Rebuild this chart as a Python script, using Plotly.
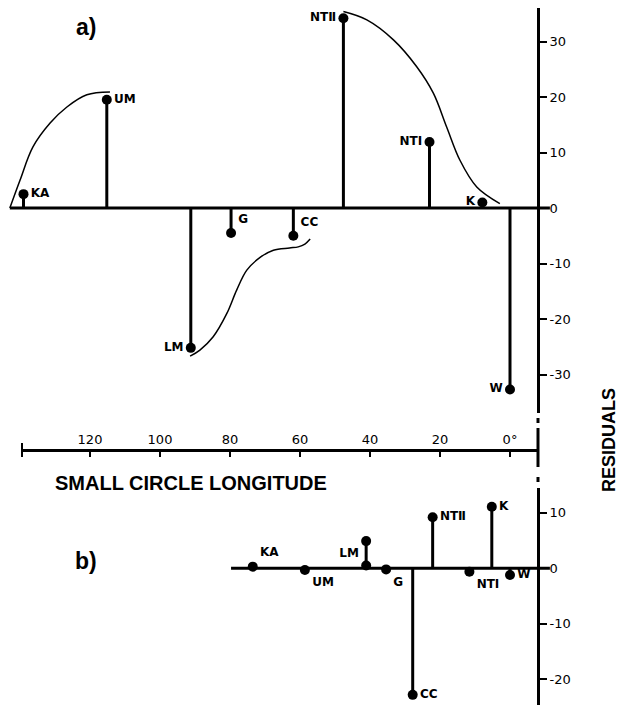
import plotly.graph_objects as go

# ---------------- data ----------------
names_a = ["KA", "UM", "LM", "G", "CC", "NTⅡ", "NTI", "K", "W"]
lon_a = [139.0, 115.2, 91.2, 79.7, 61.9, 47.6, 23.0, 7.9, 0.0]
res_a = [2.5, 19.5, -25.2, -4.5, -5.0, 34.2, 11.9, 1.0, -32.7]

names_b = ["KA", "UM", "LM", "G", "CC", "NTⅡ", "NTI", "K", "W"]
lon_b = [73.5, 58.6, 41.1, 35.4, 27.8, 22.1, 11.6, 5.2, 0.0]
res_b = [0.3, -0.3, 4.9, -0.2, -22.8, 9.2, -0.6, 11.1, -1.2]
extra_lon_b = [41.1]
extra_res_b = [0.5]

curve1_lon = [142.9, 140.0, 136.3, 131.4, 126.6, 120.9, 114.3]
curve1_res = [0.0, 5.0, 11.0, 15.3, 18.2, 20.4, 20.9]
curve2_lon = [91.4, 88.6, 84.8, 80.9, 78.1, 75.2, 71.4, 67.6, 63.0, 60.5, 58.6, 57.1]
curve2_res = [-26.7, -25.6, -23.2, -19.0, -14.8, -11.2, -8.9, -7.6, -7.2, -7.0, -6.5, -5.6]
curve3_lon = [47.6, 40.9, 33.3, 26.7, 21.9, 18.1, 14.3, 9.5, 2.9]
curve3_res = [35.4, 33.9, 30.3, 25.5, 20.7, 14.6, 8.6, 3.8, 0.8]

baseline_a_lon = [142.9, -11.4]
baseline_b_lon = [79.7, -11.4]

lon_tickvals = [120, 100, 80, 60, 40, 20, 0]
lon_ticktext = ["120", "100", "80", "60", "40", "20", "0°"]
res_tickvals_a = [30, 20, 10, 0, -10, -20, -30]
res_ticktext_a = ["30", "20", "10", "0", "-10", "-20", "-30"]
res_tickvals_b = [10, 0, -10, -20]
res_ticktext_b = ["10", "0", "-10", "-20"]

# ---------------- layout geometry (pixels) ----------------
W, H = 620, 705
X0, PXD = 510.0, 3.5          # pixel of 0 deg, px per degree
YA0, YB0, PXU = 208.0, 568.3, 5.55   # pixel of zero residual (a, b), px per unit
AXX = 538.0                   # pixel x of residual axis
XAX_Y = 450.0                 # pixel y of longitude axis
XAX_L = 22.0

def lon_at(px):
    return (X0 - px) / PXD

def ra_at(py):
    return (YA0 - py) / PXU

def rb_at(py):
    return (YB0 - py) / PXU

pos_a = ["middle right", "middle right", "middle left", "top right", "top right",
         "middle left", "middle left", "middle left", "middle left"]
pos_b = ["top right", "bottom right", "bottom left", "bottom right", "middle right",
         "middle right", "bottom right", "middle right", "middle right"]

LBL = dict(family="DejaVu Sans", size=12, color="black", weight="bold")
TCK = dict(family="DejaVu Sans", size=13, color="black")


def stems(xs, ys):
    sx, sy = [], []
    for x, y in zip(xs, ys):
        sx += [x, x, None]
        sy += [0, y, None]
    return sx, sy


fig = go.Figure()

# ---- panel a ----
fig.add_trace(go.Scatter(x=baseline_a_lon, y=[0, 0], mode="lines",
                         line=dict(color="black", width=3), xaxis="x", yaxis="y",
                         hoverinfo="skip"))
sx, sy = stems(lon_a, res_a)
fig.add_trace(go.Scatter(x=sx, y=sy, mode="lines", line=dict(color="black", width=3),
                         xaxis="x", yaxis="y", hoverinfo="skip"))
for cx, cy in [(curve1_lon, curve1_res), (curve2_lon, curve2_res), (curve3_lon, curve3_res)]:
    fig.add_trace(go.Scatter(x=cx, y=cy, mode="lines",
                             line=dict(color="black", width=1.5, shape="spline", smoothing=1.0),
                             xaxis="x", yaxis="y", hoverinfo="skip"))
fig.add_trace(go.Scatter(x=lon_a, y=res_a, mode="markers+text", text=names_a,
                         textposition=pos_a, textfont=LBL, cliponaxis=False,
                         marker=dict(color="black", size=10), xaxis="x", yaxis="y"))

# ---- panel b ----
fig.add_trace(go.Scatter(x=baseline_b_lon, y=[0, 0], mode="lines",
                         line=dict(color="black", width=3), xaxis="x", yaxis="y2",
                         hoverinfo="skip"))
sx, sy = stems(lon_b, res_b)
fig.add_trace(go.Scatter(x=sx, y=sy, mode="lines", line=dict(color="black", width=3),
                         xaxis="x", yaxis="y2", hoverinfo="skip"))
fig.add_trace(go.Scatter(x=lon_b, y=res_b, mode="markers+text", text=names_b,
                         textposition=pos_b, textfont=LBL, cliponaxis=False,
                         marker=dict(color="black", size=10), xaxis="x", yaxis="y2"))
fig.add_trace(go.Scatter(x=extra_lon_b, y=extra_res_b, mode="markers",
                         marker=dict(color="black", size=10), xaxis="x", yaxis="y2"))

# dummy trace so the longitude axis is drawn
fig.add_trace(go.Scatter(x=[None], y=[None], mode="markers", xaxis="x2", yaxis="y",
                         hoverinfo="skip"))

fig.update_layout(
    width=W, height=H, autosize=False,
    margin=dict(l=0, r=0, t=0, b=0),
    paper_bgcolor="white", plot_bgcolor="rgba(0,0,0,0)",
    showlegend=False,
    xaxis=dict(domain=[0, 1], range=[lon_at(0), lon_at(W)], visible=False),
    xaxis2=dict(domain=[XAX_L / W, AXX / W], range=[lon_at(XAX_L), lon_at(AXX)],
                anchor="free", position=1 - XAX_Y / H, side="top",
                showline=True, linewidth=3, linecolor="black",
                ticks="inside", ticklen=5, tickwidth=2, tickcolor="black",
                tickvals=lon_tickvals, ticktext=lon_ticktext, tickfont=TCK,
                showgrid=False, zeroline=False),
    yaxis=dict(domain=[1 - 413 / H, 1 - 8 / H], range=[ra_at(413), ra_at(8)],
               anchor="free", position=AXX / W, side="right",
               showline=True, linewidth=3, linecolor="black",
               ticks="outside", ticklen=7, tickwidth=2, tickcolor="black",
               tickvals=res_tickvals_a, ticktext=res_ticktext_a, tickfont=TCK,
               showgrid=False, zeroline=False),
    yaxis2=dict(domain=[0, 1 - 488 / H], range=[rb_at(H), rb_at(488)],
                anchor="free", position=AXX / W, side="right",
                showline=True, linewidth=3, linecolor="black",
                ticks="outside", ticklen=7, tickwidth=2, tickcolor="black",
                tickvals=res_tickvals_b, ticktext=res_ticktext_b, tickfont=TCK,
                showgrid=False, zeroline=False),
)

# broken connector between the two residual axes, and left end bar of longitude axis
for y0, y1 in [(418, 423), (428, 467), (477, 482)]:
    fig.add_shape(type="line", xref="paper", yref="paper",
                  x0=AXX / W, x1=AXX / W, y0=1 - y0 / H, y1=1 - y1 / H,
                  line=dict(color="black", width=3))
fig.add_shape(type="line", xref="paper", yref="paper",
              x0=XAX_L / W, x1=XAX_L / W, y0=1 - 443 / H, y1=1 - 457 / H,
              line=dict(color="black", width=2))

ann = dict(xref="paper", yref="paper", showarrow=False, xanchor="center", yanchor="middle")
fig.add_annotation(text="a)", x=86 / W, y=1 - 27 / H,
                   font=dict(family="Liberation Sans", size=23, color="black", weight="bold"), **ann)
fig.add_annotation(text="b)", x=86 / W, y=1 - 561 / H,
                   font=dict(family="Liberation Sans", size=23, color="black", weight="bold"), **ann)
fig.add_annotation(text="SMALL CIRCLE LONGITUDE", x=191 / W, y=1 - 483 / H,
                   font=dict(family="Liberation Sans", size=20, color="black", weight="bold"), **ann)
fig.add_annotation(text="RESIDUALS", x=609 / W, y=1 - 440 / H, textangle=-90,
                   font=dict(family="Liberation Sans", size=18, color="black", weight="bold"), **ann)

fig.write_html("out.html")
